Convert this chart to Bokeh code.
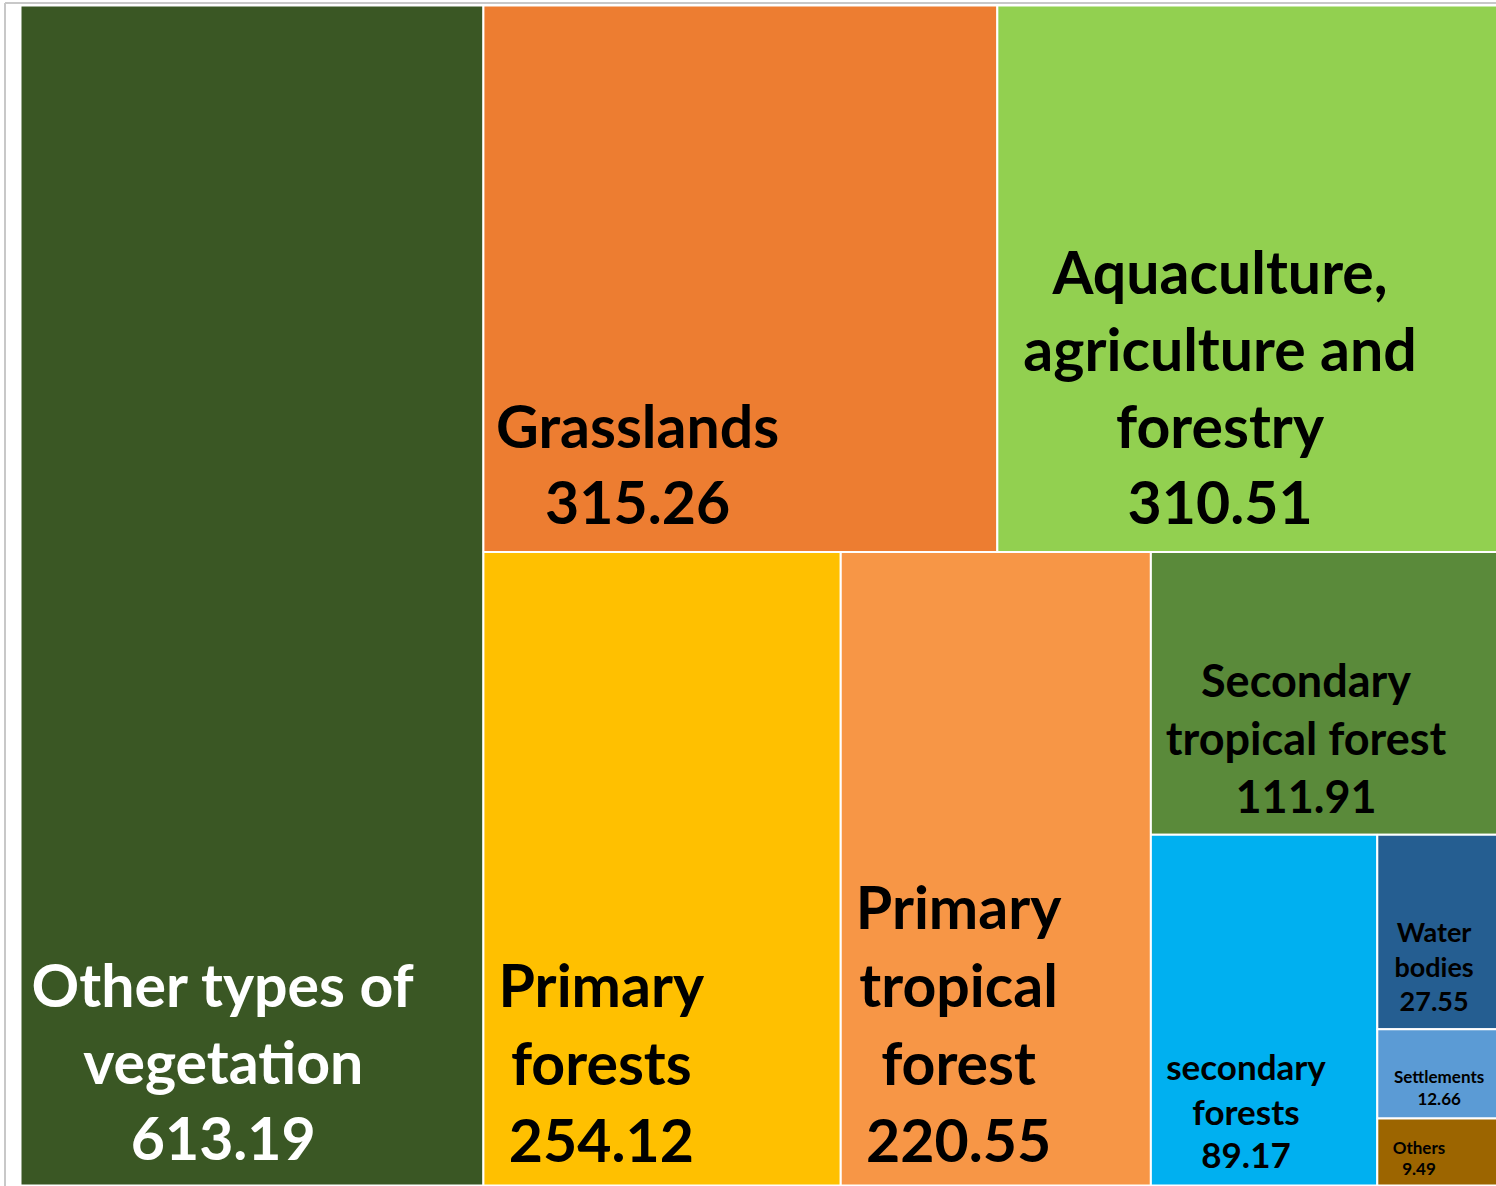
from bokeh.plotting import figure
from bokeh.models import Range1d, ColumnDataSource
from bokeh.core.properties import value
from bokeh.embed import file_html
from bokeh.resources import INLINE

# ---- data ----
categories = ["Other types of vegetation", "Grasslands", "Aquaculture, agriculture and forestry",
              "Primary forests", "Primary tropical forest", "Secondary tropical forest",
              "secondary forests", "Water bodies", "Settlements", "Others"]
values = [613.19, 315.26, 310.51, 254.12, 220.55, 111.91, 89.17, 27.55, 12.66, 9.49]
label_lines = [["Other types of", "vegetation"], ["Grasslands"], ["Aquaculture,", "agriculture and", "forestry"],
               ["Primary", "forests"], ["Primary", "tropical", "forest"], ["Secondary", "tropical forest"],
               ["secondary", "forests"], ["Water", "bodies"], ["Settlements"], ["Others"]]

# ---- styles ----
colors = ["#3A5724", "#ED7D31", "#92D050", "#FFC000", "#F79646", "#5A8A3A",
          "#00B0F0", "#255E91", "#5B9BD5", "#9C6500"]
text_colors = ["white"] + ["black"] * 9
font_px = [59, 59, 59, 59, 59, 45, 35, 27, 17, 17]
line_step = [77, 77, 77, 78, 78, 58, 45, 35, 23, 22]
label_fx = [0.438, 0.30, 0.44, 0.33, 0.38, 0.44, 0.42, 0.45, 0.49, 0.33]
bottom_pad = [25, 28, 28, 23, 23, 22, 17, 18, 13, 10]
baseline_fix = 0.37     # renderer places the alphabetic baseline ~0.37em lower
strip_counts = [1, 2, 1, 1, 1, 1, 1, 1, 1]
W, H = 1483.0, 1180.0   # layout area (pixels)


def strip_layout(vals, counts, x0, y0, w, h):
    scale = w * h / sum(vals)
    rects, i = [], 0
    for c in counts:
        grp = vals[i:i + c]
        s = sum(grp) * scale
        if w >= h:      # column on the left side
            cw = s / h
            yy = y0
            for v in grp:
                rh = v * scale / cw
                rects.append((x0, yy, x0 + cw, yy + rh))
                yy += rh
            x0 += cw
            w -= cw
        else:           # row along the top
            rh = s / w
            xx = x0
            for v in grp:
                rw = v * scale / rh
                rects.append((xx, y0, xx + rw, y0 + rh))
                xx += rw
            y0 += rh
            h -= rh
        i += c
    return rects


rects = strip_layout(values, strip_counts, 0.0, 0.0, W, H)

quad_src = ColumnDataSource(dict(
    left=[r[0] for r in rects], right=[r[2] for r in rects],
    top=[r[1] for r in rects], bottom=[r[3] for r in rects], color=colors))

p = figure(width=1496, height=1186, x_range=Range1d(-20, 1476), y_range=Range1d(1181, -5),
           output_backend="svg", toolbar_location=None, min_border=0,
           x_axis_location=None, y_axis_location=None)
p.grid.visible = False
p.outline_line_color = None
p.background_fill_color = "white"
p.border_fill_color = "white"

# chart-area frame lines (light grey) at the left and top
p.segment(x0=[-15.5, -15.5], y0=[-2.5, -2.5], x1=[-15.5, W], y1=[H + 10, -2.5],
          line_color="#C8C8C8", line_width=2)

p.quad(left="left", right="right", top="top", bottom="bottom", fill_color="color",
       line_color="white", line_width=2, source=quad_src)

for k, r in enumerate(rects):
    lines = label_lines[k] + ["%.2f" % values[k]]
    cx = r[0] + label_fx[k] * (r[2] - r[0])
    last = r[3] - bottom_pad[k] - baseline_fix * font_px[k]
    n = len(lines)
    ys = [last - (n - 1 - j) * line_step[k] for j in range(n)]
    p.text(x=[cx] * n, y=ys, text=lines, text_align="center", text_baseline="alphabetic",
           text_font=value("Lato"), text_font_style="bold", text_font_size=f"{font_px[k]}px",
           text_color=text_colors[k])

open("out.html", "w").write(file_html(p, INLINE))
